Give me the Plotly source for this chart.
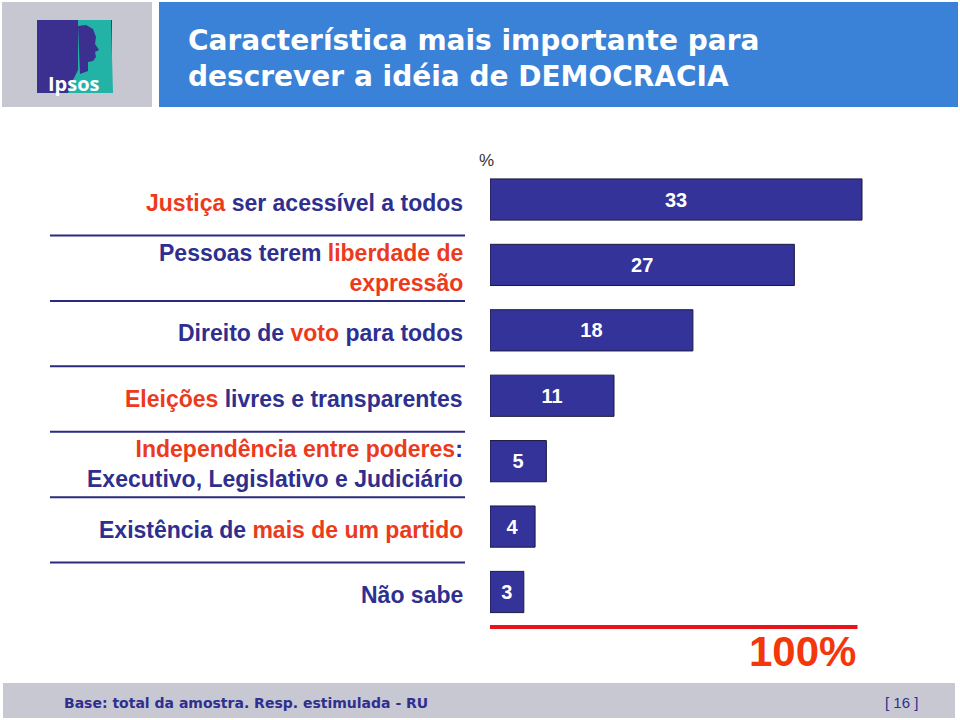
import plotly.graph_objects as go

# ---- data ----
categories = [
    "Justiça ser acessível a todos",
    "Pessoas terem liberdade de expressão",
    "Direito de voto para todos",
    "Eleições livres e transparentes",
    "Independência entre poderes: Executivo, Legislativo e Judiciário",
    "Existência de mais de um partido",
    "Não sabe",
]
values = [33, 27, 18, 11, 5, 4, 3]

NAVY = "#2e2f8e"
RED = "#ec3a1c"


def r(t):
    return f'<span style="color:{RED}">{t}</span>'


label_texts = [
    r("Justiça") + " ser acessível a todos",
    "Pessoas terem " + r("liberdade de") + "<br>" + r("expressão"),
    "Direito de " + r("voto") + " para todos",
    r("Eleições") + " livres e transparentes",
    r("Independência entre poderes") + ":<br>Executivo, Legislativo e Judiciário",
    "Existência de " + r("mais de um partido"),
    "Não sabe",
]

title_text = "Característica mais importante para<br>descrever a idéia de DEMOCRACIA"
footer_text = "Base: total da amostra. Resp. estimulada - RU"
page_text = "[ 16 ]"
total_text = "100%"
unit_text = "%"

W, H = 960, 720


def px(x):
    return x / W


def py(y):
    return 1 - y / H


fig = go.Figure()
fig.add_trace(go.Bar(
    y=list(range(len(categories))),
    x=values,
    orientation="h",
    marker=dict(color="#333399", line=dict(color="#1a1a40", width=1)),
    text=[str(v) for v in values],
    textposition="inside",
    insidetextanchor="middle",
    constraintext="none",
    textfont=dict(color="white", size=20, family="Liberation Sans, Arial", weight="bold"),
    hoverinfo="skip",
    customdata=categories,
))

shapes = []
# logo box and title box
shapes.append(dict(type="rect", xref="paper", yref="paper", x0=px(2), x1=px(152), y0=py(107), y1=py(2),
                   fillcolor="#c7c7d1", line=dict(width=0), layer="below"))
shapes.append(dict(type="rect", xref="paper", yref="paper", x0=px(159), x1=px(958), y0=py(107), y1=py(2),
                   fillcolor="#3a82d8", line=dict(width=0), layer="below"))
# Ipsos logo
shapes.append(dict(type="rect", xref="paper", yref="paper", x0=px(37), x1=px(112), y0=py(93), y1=py(20),
                   fillcolor="#3b2f8f", line=dict(width=0)))


def poly(pts):
    return "M " + " L ".join(f"{px(x)},{py(y)}" for x, y in pts) + " Z"


shapes.append(dict(type="path", xref="paper", yref="paper",
                   path=poly([(78, 20), (111, 20), (113, 93), (68, 93), (73, 80), (78, 70), (78, 30)]),
                   fillcolor="#22b3a6", line=dict(width=0)))
shapes.append(dict(type="path", xref="paper", yref="paper",
                   path=poly([(78, 26), (86, 25), (93, 29), (96, 37), (95, 44), (99, 50), (95, 52), (96, 57),
                              (93, 61), (88, 62), (88, 71), (80, 74)]),
                   fillcolor="#3b2f8f", line=dict(width=0)))
# footer band
shapes.append(dict(type="rect", xref="paper", yref="paper", x0=px(3), x1=px(955), y0=py(718), y1=py(683),
                   fillcolor="#c8c8d2", line=dict(width=0), layer="below"))
# separator lines between labels
for i in range(len(categories) - 1):
    shapes.append(dict(type="line", xref="paper", yref="y", x0=px(50), x1=px(465),
                       y0=i + 0.55, y1=i + 0.55, line=dict(color="#2a2a80", width=2)))
# red total line
shapes.append(dict(type="line", xref="x", yref="paper", x0=0, x1=32.6, y0=py(627), y1=py(627),
                   line=dict(color="#e8141c", width=4)))

annotations = []
for i, t in enumerate(label_texts):
    annotations.append(dict(xref="paper", yref="y", x=px(465), y=i, xanchor="right", yanchor="middle",
                            text=t, align="right", showarrow=False, yshift=-3,
                            font=dict(family="Liberation Sans, Arial", size=23, color=NAVY, weight="bold")))
annotations.append(dict(xref="paper", yref="paper", x=px(186), y=py(58), xanchor="left", yanchor="middle",
                        text=title_text, align="left", showarrow=False,
                        font=dict(family="DejaVu Sans", size=28, color="white", weight="bold")))
annotations.append(dict(xref="paper", yref="paper", x=px(477), y=py(160), xanchor="left", yanchor="middle",
                        text=unit_text, showarrow=False,
                        font=dict(family="Liberation Sans, Arial", size=17, color="#333333")))
annotations.append(dict(xref="paper", yref="paper", x=px(858), y=py(651), xanchor="right", yanchor="middle",
                        text=total_text, showarrow=False,
                        font=dict(family="Liberation Sans, Arial", size=42, color="#f2380a", weight="bold")))
annotations.append(dict(xref="paper", yref="paper", x=px(62), y=py(703), xanchor="left", yanchor="middle",
                        text=footer_text, showarrow=False,
                        font=dict(family="DejaVu Sans", size=14, color=NAVY, weight="bold")))
annotations.append(dict(xref="paper", yref="paper", x=px(901), y=py(702), xanchor="center", yanchor="middle",
                        text=page_text, showarrow=False,
                        font=dict(family="Liberation Sans, Arial", size=15, color=NAVY)))
annotations.append(dict(xref="paper", yref="paper", x=px(74), y=py(83), xanchor="center", yanchor="middle",
                        text="Ipsos", showarrow=False,
                        font=dict(family="Open Sans", size=20, color="white", weight="bold")))

y_top, y_bot = 166.8, 624.7
fig.update_layout(
    width=W, height=H,
    margin=dict(l=0, r=0, t=0, b=0),
    paper_bgcolor="white", plot_bgcolor="white",
    showlegend=False,
    bargap=0.37,
    xaxis=dict(domain=[px(490), px(490 + 40 * 372 / 33)], range=[0, 40], visible=False, fixedrange=True),
    yaxis=dict(domain=[py(y_bot), py(y_top)], range=[6.5, -0.5], visible=False, fixedrange=True),
    shapes=shapes,
    annotations=annotations,
)

fig.write_html("out.html",
               config={"displayModeBar": False},
               post_script="document.body.style.margin='0';document.body.style.padding='0';"
                           "document.body.style.overflow='hidden';")
